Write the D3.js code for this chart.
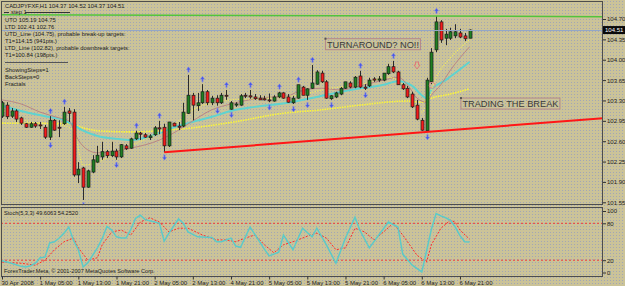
<!DOCTYPE html>
<html>
<head>
<meta charset="utf-8">
<script src="https://cdn.jsdelivr.net/npm/d3@7"></script>
<style>
body { margin: 0; background: #c8c097; }
svg { display: block; }
text { font-family: "Liberation Sans", Arial, sans-serif; }
</style>
</head>
<body>
<script>
// CADJPYFXF H1, bars 0..98 (30 Apr 2008 21:00 -> 7 May 2008)
const open = [103.03,103.22,103.03,103.12,103.00,102.90,102.84,102.90,102.88,102.84,
  102.67,102.96,102.84,102.90,103.12,103.10,102.02,102.14,101.81,102.07,
  102.24,102.33,102.42,102.35,102.43,102.33,102.52,102.48,102.64,102.74,
  102.71,102.66,102.71,102.83,102.84,102.52,102.91,102.86,102.86,103.08,
  103.39,103.21,103.26,103.45,103.26,103.34,103.26,103.39,103.15,103.22,
  103.22,103.39,103.38,103.36,103.34,103.33,103.31,103.29,103.36,103.43,
  103.36,103.26,103.34,103.53,103.39,103.51,103.58,103.77,103.62,103.33,
  103.36,103.41,103.51,103.60,103.53,103.72,103.53,103.55,103.67,103.65,
  103.65,103.76,103.88,103.79,103.57,103.51,103.41,103.22,102.96,102.78,
  103.62,104.17,104.65,104.37,104.37,104.41,104.46,104.41,104.37];
const high = [103.29,103.27,103.17,103.15,103.02,102.91,102.93,102.93,102.93,102.88,
  103.03,102.98,102.96,103.19,103.17,103.15,102.24,102.16,102.11,102.36,
  102.52,102.59,102.45,102.59,102.47,102.55,102.55,102.66,102.78,102.76,
  102.74,102.72,102.86,102.95,102.90,102.93,102.92,102.93,103.26,103.74,
  103.43,103.43,103.58,103.48,103.38,103.39,103.43,103.48,103.29,103.27,
  103.41,103.43,103.48,103.41,103.39,103.38,103.42,103.39,103.45,103.44,
  103.41,103.38,103.57,103.55,103.51,103.91,103.82,103.81,103.65,103.39,
  103.45,103.53,103.62,103.63,103.72,103.81,103.58,103.69,103.70,103.72,
  103.77,103.93,103.98,103.81,103.60,103.55,103.45,103.31,103.00,103.69,
  104.20,104.75,104.68,104.53,104.55,104.61,104.53,104.46,104.52];
const low = [103.00,102.98,103.00,102.93,102.88,102.83,102.83,102.83,102.81,102.64,
  102.62,102.78,102.67,102.88,102.93,101.99,101.88,101.59,101.80,102.05,
  102.23,102.28,102.31,102.33,102.28,102.31,102.45,102.47,102.62,102.62,
  102.66,102.62,102.69,102.72,102.41,102.50,102.86,102.79,102.84,103.07,
  102.96,103.12,103.24,103.22,103.22,103.21,103.24,103.31,103.14,103.19,
  103.21,103.34,103.33,103.31,103.31,103.30,103.27,103.28,103.34,103.33,
  103.26,103.24,103.33,103.39,103.31,103.50,103.57,103.60,103.33,103.31,
  103.34,103.39,103.50,103.51,103.51,103.51,103.48,103.53,103.62,103.62,
  103.63,103.74,103.77,103.57,103.48,103.34,103.17,102.96,102.78,102.76,
  103.58,104.13,104.29,104.25,104.34,104.37,104.37,104.32,104.37];
const close = [103.26,103.02,103.12,102.98,102.91,102.84,102.90,102.86,102.87,102.67,
  102.96,102.79,102.83,103.10,103.08,102.02,102.12,101.81,102.09,102.28,
  102.36,102.42,102.35,102.43,102.33,102.54,102.47,102.64,102.74,102.72,
  102.67,102.69,102.83,102.81,102.52,102.93,102.86,102.84,103.10,103.39,
  103.22,103.26,103.45,103.26,103.34,103.26,103.39,103.38,103.26,103.24,
  103.38,103.38,103.36,103.33,103.31,103.31,103.30,103.36,103.43,103.34,
  103.27,103.34,103.57,103.39,103.50,103.60,103.79,103.62,103.34,103.38,
  103.43,103.51,103.62,103.53,103.70,103.53,103.51,103.65,103.65,103.67,
  103.77,103.88,103.79,103.57,103.50,103.36,103.19,102.98,102.79,103.65,
  104.13,104.65,104.34,104.44,104.48,104.48,104.39,104.36,104.51];

// fractal bars
const fractalUp = [10,13,28,33,39,42,47,52,58,62,65,75,82,91];
const fractalDown = [10,17,24,34,45,48,56,61,64,69,76,89];

// moving averages, read at [bar, price]
const maCyan = [[0,103.21],[4,103.12],[9,103.03],[13,102.96],[15,102.88],[17,102.78],[20,102.69],
  [24,102.64],[27,102.62],[30,102.66],[33,102.74],[36,102.84],[39,102.91],[44,103.02],[48,103.12],
  [53,103.19],[60,103.26],[66,103.36],[73,103.48],[80,103.57],[83,103.63],[86,103.55],[88,103.39],
  [89,103.34],[90,103.48],[93,103.65],[98,103.96]];
const maPink = [[0,103.31],[4,103.24],[8,103.10],[12,103.00],[14,102.95],[16,102.62],[18,102.45],
  [20,102.40],[23,102.42],[27,102.48],[33,102.62],[37,102.79],[40,102.95],[44,103.14],[48,103.24],
  [54,103.34],[60,103.38],[62,103.45],[67,103.51],[71,103.48],[75,103.55],[80,103.65],[83,103.70],
  [85,103.57],[87,103.34],[89,103.27],[90,103.39],[92,103.57],[94,103.82],[98,104.22]];
const maSlow = [[0,102.91],[14,102.90],[17,102.83],[20,102.78],[27,102.76],[33,102.78],[41,102.84],
  [50,102.95],[58,103.07],[67,103.14],[75,103.22],[85,103.29],[88,103.27],[90,103.34],[94,103.41],[98,103.50]];
const maFast = [[0,103.14],[6,102.93],[12,102.88],[15,102.79],[17,102.19],[20,102.24],[25,102.45],
  [31,102.67],[36,102.88],[40,103.14],[48,103.31],[56,103.34],[62,103.39],[69,103.51],[75,103.57],
  [81,103.70],[85,103.48],[88,103.10],[89,103.22],[91,103.69],[94,104.03],[98,104.34]];

// trend lines
const ltdLine = [[34,102.41],[89,102.76]];
const utoLine = [[0,104.775],[91,104.75]];
const bid = 104.51;

// stochastic (5,3,3), read at [bar, value]
const stochK = [[0,19],[2,15],[4,10],[5,9],[6,11],[7,15],[8,24],[9,25],[10,48],[11,50],[12,56],
  [13,64],[14,74],[15,52],[16,37],[17,9],[18,16],[20,40],[21,55],[22,75],[23,69],[24,58],[25,56],
  [26,56],[27,70],[28,88],[29,93],[30,86],[32,82],[33,80],[34,51],[35,64],[37,87],[38,80],[39,66],
  [41,58],[44,57],[45,50],[46,50],[48,56],[49,43],[50,41],[52,74],[53,62],[55,38],[56,27],[58,33],
  [59,61],[61,37],[63,72],[65,58],[66,72],[68,45],[70,15],[72,56],[74,90],[75,69],[77,40],[79,61],
  [81,82],[83,74],[84,30],[86,12],[88,1],[89,35],[90,70],[91,96],[92,92],[93,89],[94,85],[95,74],
  [96,60],[97,50],[98,49.6]];
const stochD = [[0,17],[4,15],[7,12],[9,20],[11,37],[13,50],[15,56],[16,40],[18,20],[20,24],[21,45],
  [23,66],[25,69],[27,61],[29,82],[31,89],[33,82],[35,66],[37,72],[39,72],[42,61],[45,53],[47,53],
  [49,50],[51,56],[53,61],[55,45],[57,32],[59,45],[61,50],[64,59],[66,64],[68,56],[70,37],[72,40],
  [74,72],[76,66],[78,53],[80,66],[82,80],[84,61],[87,28],[89,17],[90,45],[92,72],[94,85],[95,82],
  [96,69],[98,54.25]];

const priceTicks = [101.55,101.90,102.25,102.60,102.95,103.30,103.65,104.00,104.35,104.70];
const stochTicks = [0,20,80,100];
const timeIdx = [0,8,16,24,32,40,48,56,64,72,80,88,96];
const timeLabels = ["30 Apr 2008","1 May 05:00","1 May 13:00","1 May 21:00","2 May 05:00","2 May 13:00",
  "4 May 21:00","5 May 05:00","5 May 13:00","5 May 21:00","6 May 05:00","6 May 13:00","6 May 21:00"];

const infoLines = ["UTO 105.19  104.75","LTD  102.41  102.76",
  "UTD_Line (104.75), probable break-up targets:","T1=114.15 (941pts.)",
  "LTD_Line (102.82), probable downbreak targets:","T1=100.84 (198pts.)"];
const paramLines = ["ShowingSteps=1","BackSteps=0","Fractals"];

const notes = [{text: "TURNAROUND? NO!!", i: 67.7, p: 104.37, w: 92},
               {text: "TRADING THE BREAK", i: 96.1, p: 103.35, w: 96}];

const W = 625, H = 286;
const svg = d3.select("body").append("svg").attr("width", W).attr("height", H);
const defs = svg.append("defs");

// dithered khaki background
const pat = defs.append("pattern").attr("id", "dither")
  .attr("width", 3).attr("height", 3).attr("patternUnits", "userSpaceOnUse");
pat.append("rect").attr("width", 3).attr("height", 3).attr("fill", "#cbc398");
pat.append("rect").attr("x", 1).attr("y", 1).attr("width", 1).attr("height", 1).attr("fill", "#a2a6b6");
svg.append("rect").attr("width", W).attr("height", H).attr("fill", "url(#dither)");

defs.append("clipPath").attr("id", "clipMain")
  .append("rect").attr("x", 1.5).attr("y", 1.5).attr("width", 601).attr("height", 203);
defs.append("clipPath").attr("id", "clipStoch")
  .append("rect").attr("x", 1.5).attr("y", 207.5).attr("width", 601).attr("height", 69);

const x = d3.scaleLinear().domain([0, 98]).range([2, 469.5]);
const y = d3.scaleLinear().domain([101.55, 104.70]).range([202.3, 19]);
const ys = d3.scaleLinear().domain([0, 100]).range([272.5, 211]);

const main = svg.append("g").attr("clip-path", "url(#clipMain)");
const line = d3.line().x(d => x(d[0])).y(d => y(d[1])).curve(d3.curveMonotoneX);

// moving averages
main.append("path").attr("d", line(maSlow)).attr("fill", "none")
  .attr("stroke", "#fbf63a").attr("stroke-width", 1.6).attr("stroke-dasharray", "1.5,1");
main.append("path").attr("d", line(maCyan)).attr("fill", "none")
  .attr("stroke", "#5fd3d0").attr("stroke-width", 2);
main.append("path").attr("d", line(maPink)).attr("fill", "none")
  .attr("stroke", "#b88584").attr("stroke-width", 1);
main.append("path").attr("d", line(maFast)).attr("fill", "none")
  .attr("stroke", "#f4ef5a").attr("stroke-width", 1.2).attr("stroke-dasharray", "1,1.5");

// candles
const bars = d3.range(open.length).map(i => ({i, o: open[i], h: high[i], l: low[i], c: close[i]}));
const cg = main.selectAll(".candle").data(bars).enter().append("g").attr("class", "candle");
cg.append("line")
  .attr("x1", d => Math.round(x(d.i)) + 0.5).attr("x2", d => Math.round(x(d.i)) + 0.5)
  .attr("y1", d => y(d.h)).attr("y2", d => y(d.l))
  .attr("stroke", "#2b2b2b").attr("stroke-width", 1);
cg.append("rect")
  .attr("x", d => Math.round(x(d.i)) - 1)
  .attr("y", d => y(Math.max(d.o, d.c)))
  .attr("width", 3)
  .attr("height", d => Math.max(1, Math.abs(y(d.o) - y(d.c))))
  .attr("fill", d => d.c >= d.o ? "#1f7f22" : "#f41c1c")
  .attr("stroke", "#1c1c1c").attr("stroke-width", 0.7);

// trend lines and bid line
const xEdge = x.invert(603);
const slopeL = (ltdLine[1][1] - ltdLine[0][1]) / (ltdLine[1][0] - ltdLine[0][0]);
main.append("line")
  .attr("x1", x(ltdLine[0][0])).attr("y1", y(ltdLine[0][1]))
  .attr("x2", 603).attr("y2", y(ltdLine[0][1] + slopeL * (xEdge - ltdLine[0][0])))
  .attr("stroke", "#ff1616").attr("stroke-width", 2);
const slopeU = (utoLine[1][1] - utoLine[0][1]) / (utoLine[1][0] - utoLine[0][0]);
main.append("line")
  .attr("x1", 1).attr("y1", y(utoLine[0][1]))
  .attr("x2", 603).attr("y2", y(utoLine[0][1] + slopeU * xEdge))
  .attr("stroke", "#52c43c").attr("stroke-width", 1.5);
main.append("line")
  .attr("x1", 1).attr("x2", 603).attr("y1", Math.round(y(bid)) + 0.5).attr("y2", Math.round(y(bid)) + 0.5)
  .attr("stroke", "#93a6c6").attr("stroke-width", 1);

// fractal arrows
function arrow(cx, cy, up) {
  const s = up ? 1 : -1;
  return `M${cx},${cy - 3 * s} L${cx - 2.2},${cy} L${cx - 0.7},${cy} L${cx - 0.7},${cy + 2.5 * s}` +
         ` L${cx + 0.7},${cy + 2.5 * s} L${cx + 0.7},${cy} L${cx + 2.2},${cy} Z`;
}
main.selectAll(".fup").data(fractalUp).enter().append("path")
  .attr("d", i => arrow(Math.round(x(i)) + 0.5, y(high[i]) - 5, true))
  .attr("fill", "#4a58e6").attr("stroke", "#8f98e8").attr("stroke-width", 0.4);
main.selectAll(".fdn").data(fractalDown).enter().append("path")
  .attr("d", i => arrow(Math.round(x(i)) + 0.5, y(low[i]) + 5, false))
  .attr("fill", "#4a58e6").attr("stroke", "#8f98e8").attr("stroke-width", 0.4);

// drawn objects: hollow down arrow and circle
const ax = x(87), ay = y(103.91);
main.append("path")
  .attr("d", `M${ax - 1.5},${ay - 3} L${ax + 1.5},${ay - 3} L${ax + 1.5},${ay} L${ax + 3},${ay} L${ax},${ay + 4} L${ax - 3},${ay} L${ax - 1.5},${ay} Z`)
  .attr("fill", "none").attr("stroke", "#e07a78").attr("stroke-width", 1);
main.append("circle").attr("cx", x(90.2)).attr("cy", y(103.56)).attr("r", 3)
  .attr("fill", "none").attr("stroke", "#d88c8a").attr("stroke-width", 1);

// text notes
notes.forEach(n => {
  const nx = x(n.i), ny = y(n.p);
  main.append("rect").attr("x", nx + 0.5).attr("y", ny + 0.5).attr("width", n.w + 3).attr("height", 11)
    .attr("fill", "none").attr("stroke", "#b4878a").attr("stroke-width", 1);
  main.append("rect").attr("x", nx - 0.5).attr("y", ny - 0.5).attr("width", 2).attr("height", 2).attr("fill", "#555");
  main.append("text").attr("x", nx + 2).attr("y", ny + 9.6)
    .attr("font-size", 9.6).attr("fill", "#3a3a3a")
    .attr("textLength", n.w).attr("lengthAdjust", "spacingAndGlyphs")
    .text(n.text);
});

// info text, top left
const info = svg.append("g").attr("font-size", 5.8).attr("fill", "#1c1c1c");
info.append("text").attr("x", 5).attr("y", 8).text("CADJPYFXF,H1  104.37 104.52 104.37 104.51");
info.append("line").attr("x1", 4).attr("x2", 9).attr("y1", 12.5).attr("y2", 12.5).attr("stroke", "#333");
info.append("text").attr("x", 11).attr("y", 14).text("step 1");
info.append("line").attr("x1", 25).attr("x2", 70).attr("y1", 12.5).attr("y2", 12.5).attr("stroke", "#333");
info.selectAll(".inf").data(infoLines).enter().append("text")
  .attr("x", 5).attr("y", (d, k) => 21.5 + k * 7).text(d => d);
info.append("line").attr("x1", 5).attr("x2", 68).attr("y1", 62.5).attr("y2", 62.5).attr("stroke", "#555");
info.selectAll(".par").data(paramLines).enter().append("text")
  .attr("x", 5).attr("y", (d, k) => 71.5 + k * 7).text(d => d);

// stochastic panel
const st = svg.append("g").attr("clip-path", "url(#clipStoch)");
stochTicks.filter(v => v === 20 || v === 80).forEach(v => {
  st.append("line").attr("x1", 1).attr("x2", 603).attr("y1", ys(v)).attr("y2", ys(v))
    .attr("stroke", "#f03a3a").attr("stroke-width", 1).attr("stroke-dasharray", "2,2");
});
const sline = d3.line().x(d => x(d[0])).y(d => ys(d[1]));
st.append("path").attr("d", sline(stochD)).attr("fill", "none")
  .attr("stroke", "#ff2a2a").attr("stroke-width", 1).attr("stroke-dasharray", "2,1.5");
st.append("path").attr("d", sline(stochK)).attr("fill", "none")
  .attr("stroke", "#5ccac8").attr("stroke-width", 1.5);
svg.append("text").attr("x", 4).attr("y", 215).attr("font-size", 5.6).attr("fill", "#1c1c1c")
  .text("Stoch(5,3,3) 49.6063 54.2520");
svg.append("text").attr("x", 4).attr("y", 273).attr("font-size", 5.6).attr("fill", "#1c1c1c")
  .text("ForexTrader.Meta, © 2001-2007 MetaQuotes Software Corp.");

// panel borders
svg.append("rect").attr("x", 1.5).attr("y", 1.5).attr("width", 601).attr("height", 203)
  .attr("fill", "none").attr("stroke", "#4d4d4d");
svg.append("rect").attr("x", 1.5).attr("y", 207.5).attr("width", 601).attr("height", 69)
  .attr("fill", "none").attr("stroke", "#4d4d4d");

// price axis
const yAxis = svg.append("g").attr("transform", "translate(603,0)")
  .call(d3.axisRight(y).tickValues(priceTicks).tickSize(3).tickPadding(1).tickFormat(d3.format(".2f")));
const sAxis = svg.append("g").attr("transform", "translate(603,0)")
  .call(d3.axisRight(ys).tickValues(stochTicks).tickSize(3).tickPadding(1));
[yAxis, sAxis].forEach(a => {
  a.select(".domain").remove();
  a.selectAll("line").attr("stroke", "#333");
  a.selectAll("text").attr("font-size", 6).attr("fill", "#1c1c1c")
    .attr("font-family", "'Liberation Sans', Arial, sans-serif");
});

// bid price tag
const by = y(bid);
svg.append("rect").attr("x", 603).attr("y", by - 4).attr("width", 22).attr("height", 8).attr("fill", "#0a0a0a");
svg.append("text").attr("x", 605).attr("y", by + 2).attr("font-size", 6).attr("fill", "#ffffff")
  .text(d3.format(".2f")(bid));

// time axis
const tAxis = svg.append("g").attr("transform", "translate(0,276.5)")
  .call(d3.axisBottom(x).tickValues(timeIdx).tickSize(3).tickPadding(1)
    .tickFormat((d, k) => timeLabels[k]));
tAxis.select(".domain").remove();
tAxis.selectAll("line").attr("stroke", "#333");
tAxis.selectAll("text").attr("text-anchor", "start").attr("dx", "-1")
  .attr("font-size", 6).attr("fill", "#1c1c1c")
  .attr("font-family", "'Liberation Sans', Arial, sans-serif");
</script>
</body>
</html>
